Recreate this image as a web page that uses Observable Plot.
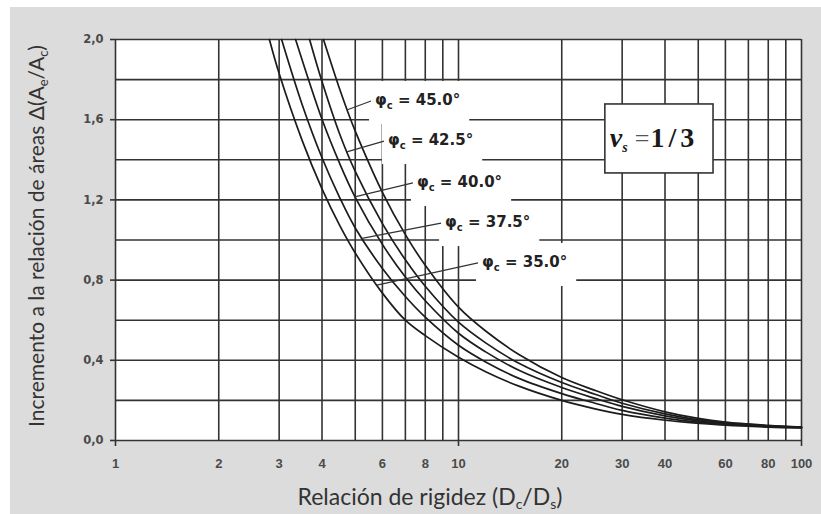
<!DOCTYPE html>
<html><head><meta charset="utf-8">
<script src="https://cdn.jsdelivr.net/npm/d3@7"></script>
<script src="https://cdn.jsdelivr.net/npm/@observablehq/plot@0.6"></script>
<style>
html,body{margin:0;padding:0;background:#fff;}
#chart{width:821px;height:514px;overflow:hidden;}
</style></head><body><div id="chart"></div>
<script>
// ---- data ----
const angles = ["45.0", "42.5", "40.0", "37.5", "35.0"];

const x45 = [4.04, 4.5, 4.74, 5, 6, 7, 8, 10, 12, 15, 20, 25, 30, 40, 50, 60, 80, 100];
const y45 = [2.0, 1.754, 1.646, 1.543, 1.238, 1.027, 0.874, 0.665, 0.546, 0.429, 0.314, 0.25, 0.203, 0.143, 0.11, 0.092, 0.076, 0.067];

const x425 = [3.68, 4, 4.5, 5, 6, 7, 8, 10, 12, 15, 20, 25, 30, 40, 50, 60, 80, 100];
const y425 = [2.0, 1.79, 1.53, 1.342, 1.082, 0.901, 0.769, 0.59, 0.487, 0.385, 0.289, 0.231, 0.186, 0.133, 0.104, 0.088, 0.073, 0.066];

const x40 = [3.35, 4, 4.5, 5, 6, 7, 8, 10, 12, 15, 20, 25, 30, 40, 50, 60, 80, 100];
const y40 = [2.0, 1.602, 1.383, 1.213, 0.978, 0.815, 0.697, 0.535, 0.442, 0.35, 0.264, 0.21, 0.17, 0.123, 0.098, 0.084, 0.071, 0.065];

const x375 = [3.05, 3.5, 4, 4.5, 5, 6, 7, 8, 10, 12, 15, 20, 25, 30, 40, 50, 60, 80, 100];
const y375 = [2.0, 1.676, 1.41, 1.213, 1.06, 0.858, 0.718, 0.615, 0.475, 0.392, 0.31, 0.234, 0.186, 0.15, 0.112, 0.092, 0.08, 0.069, 0.064];

const x35 = [2.81, 3, 3.5, 4, 4.5, 5, 6, 7, 8, 10, 12, 15, 20, 25, 30, 40, 50, 60, 80, 100];
const y35 = [2.0, 1.83, 1.497, 1.255, 1.074, 0.935, 0.735, 0.6, 0.523, 0.415, 0.343, 0.271, 0.2, 0.158, 0.13, 0.101, 0.086, 0.076, 0.067, 0.063];

const xGrid = [1, 2, 3, 4, 5, 6, 7, 8, 9, 10, 20, 30, 40, 50, 60, 70, 80, 90, 100];
const yGrid = [0, 0.2, 0.4, 0.6, 0.8, 1.0, 1.2, 1.4, 1.6, 1.8, 2.0];
const xTickLabels = [1, 2, 3, 4, 6, 8, 10, 20, 30, 40, 60, 80, 100];
const xMajorTicks = [1, 10, 100];
const yTickLabels = [0, 0.4, 0.8, 1.2, 1.6, 2.0];

// annotation anchors (data units)
const labelX = [5.73, 6.25, 7.59, 9.17, 11.75];
const labelY = [1.696, 1.496, 1.287, 1.087, 0.888];
const leaderX = [4.74, 4.74, 5.0, 5.25, 5.8];
const nuBox = {x1: 26.8, x2: 55.4, y1: 1.332, y2: 1.676};

// ---- build table ----
const curves = [
  {phi: angles[0], x: x45, y: y45},
  {phi: angles[1], x: x425, y: y425},
  {phi: angles[2], x: x40, y: y40},
  {phi: angles[3], x: x375, y: y375},
  {phi: angles[4], x: x35, y: y35}
];
const rows = curves.flatMap(c => c.x.map((x, i) => ({phi: c.phi, x, y: c.y[i]})));

function curveAt(c, xv) {
  for (let i = 0; i < c.x.length - 1; i++) {
    if (xv >= c.x[i] && xv <= c.x[i + 1]) {
      const t = (Math.log(xv) - Math.log(c.x[i])) / (Math.log(c.x[i + 1]) - Math.log(c.x[i]));
      return c.y[i] + t * (c.y[i + 1] - c.y[i]);
    }
  }
  return c.y[0];
}

const gridColor = "#333";
const chart = Plot.plot({
  width: 821, height: 514,
  marginLeft: 115, marginRight: 20, marginTop: 39, marginBottom: 74,
  x: {type: "log", domain: [1, 100], axis: null},
  y: {domain: [0, 2], axis: null},
  style: {background: "transparent", overflow: "visible"},
  marks: [
    Plot.frame({fill: "white", stroke: null}),
    Plot.ruleX(xGrid, {stroke: gridColor, strokeWidth: 1.6}),
    Plot.ruleY(yGrid, {stroke: gridColor, strokeWidth: 1.6}),
    Plot.text(xTickLabels, {x: d => d, frameAnchor: "bottom", dy: 27, text: d => String(d),
      fontFamily: "'Liberation Sans', Arial, sans-serif", fontSize: 13, fontWeight: "bold", fill: "#4a4a4a"}),
    Plot.axisX({ticks: xMajorTicks, tickSize: 6, tickFormat: () => "", label: null, stroke: gridColor, strokeWidth: 1.6}),
    Plot.axisY({ticks: yTickLabels, tickSize: 5, tickPadding: 7, tickFormat: d => d.toFixed(1).replace(".", ","), label: null,
      stroke: gridColor, strokeWidth: 1.6, fontFamily: "'DejaVu Sans', sans-serif", fontSize: 11.5, fontWeight: "bold", fill: "#4a4a4a"}),
    Plot.line(rows, {x: "x", y: "y", z: "phi", curve: "catmull-rom", stroke: "#1c1c1c", strokeWidth: 1.7})
  ]
});
document.getElementById("chart").appendChild(chart);

const svg = d3.select(chart);
const sx = chart.scale("x"), sy = chart.scale("y");
const X = v => sx.apply(v), Y = v => sy.apply(v);

// gray page background
svg.insert("rect", ":first-child").attr("x", 10).attr("y", 7).attr("width", 811).attr("height", 507).attr("fill", "#dcdcdc");

// axis titles
const titleFont = "Lato, 'Open Sans', sans-serif";
const yt = svg.append("text").attr("transform", "translate(44,236) rotate(-90)")
  .attr("text-anchor", "middle").attr("font-family", titleFont).attr("font-size", 21).attr("fill", "#333");
yt.append("tspan").text("Incremento a la relación de áreas Δ(A");
yt.append("tspan").attr("font-size", 13).attr("dy", 4).text("e");
yt.append("tspan").attr("dy", -4).text("/A");
yt.append("tspan").attr("font-size", 13).attr("dy", 4).text("c");
yt.append("tspan").attr("dy", -4).text(")");

const xt = svg.append("text").attr("x", 430).attr("y", 505)
  .attr("text-anchor", "middle").attr("font-family", titleFont).attr("font-size", 23).attr("fill", "#333");
xt.append("tspan").text("Relación de rigidez (D");
xt.append("tspan").attr("font-size", 14).attr("dy", 4).text("c");
xt.append("tspan").attr("dy", -4).text("/D");
xt.append("tspan").attr("font-size", 14).attr("dy", 4).text("s");
xt.append("tspan").attr("dy", -4).text(")");

// annotation labels with white boxes
const annoG = svg.append("g");
const boxG = annoG.append("g"), leadG = annoG.append("g"), textG = annoG.append("g");
angles.forEach((a, i) => {
  const tx = X(labelX[i]), ty = Y(labelY[i]);
  const t = textG.append("text").attr("x", tx).attr("y", ty).attr("dy", "0.36em").attr("text-anchor", "start")
    .attr("font-family", "'DejaVu Sans', sans-serif").attr("font-weight", "bold").attr("font-size", 15).attr("fill", "#222");
  t.append("tspan").text("φ");
  t.append("tspan").attr("font-size", 10).attr("dy", 4).text("c");
  t.append("tspan").attr("dy", -4).text(" = " + a + "°");
  const bb = t.node().getBBox();
  boxG.append("rect").attr("x", bb.x - 6).attr("y", ty - 19).attr("width", bb.width + 15).attr("height", 43).attr("fill", "white");
  const c = curves[i];
  leadG.append("line").attr("x1", tx - 4).attr("y1", ty + 1)
    .attr("x2", X(leaderX[i])).attr("y2", Y(curveAt(c, leaderX[i])))
    .attr("stroke", "#333").attr("stroke-width", 1.2);
});

// nu box
const bx1 = X(nuBox.x1), bx2 = X(nuBox.x2), by1 = Y(nuBox.y2), by2 = Y(nuBox.y1);
annoG.append("rect").attr("x", bx1).attr("y", by1).attr("width", bx2 - bx1).attr("height", by2 - by1)
  .attr("fill", "white").attr("stroke", "#333").attr("stroke-width", 1.6);
const nt = annoG.append("text").attr("x", bx1 + 5).attr("y", (by1 + by2) / 2 + 9).attr("text-anchor", "start")
  .attr("font-family", "'Liberation Serif', 'DejaVu Serif', serif").attr("fill", "#1a1a1a");
nt.append("tspan").attr("font-size", 28).attr("font-weight", "bold").attr("font-style", "italic").text("ν");
nt.append("tspan").attr("font-size", 14).attr("font-weight", "bold").attr("font-style", "italic").attr("dy", 5).text("s");
nt.append("tspan").attr("font-size", 26).attr("dx", 7).attr("dy", -5).attr("fill", "#555").text("=");
nt.append("tspan").attr("font-size", 28).attr("font-weight", "bold").attr("letter-spacing", 4).attr("dx", 1).text("1/3");
</script>
</body></html>
